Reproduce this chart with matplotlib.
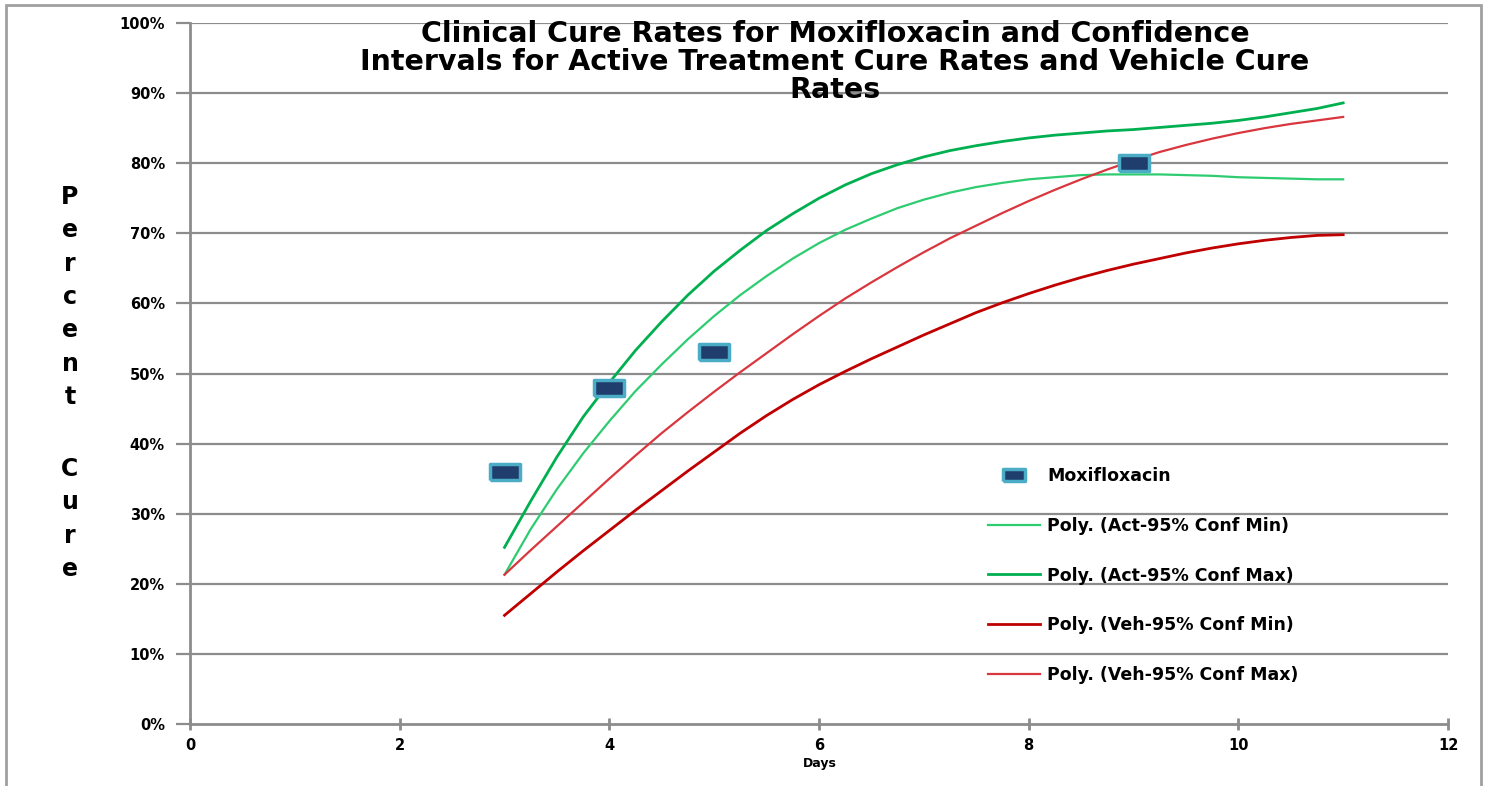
import numpy as np
import matplotlib
matplotlib.use('Agg')
import matplotlib.pyplot as plt
from matplotlib.patches import Rectangle

# Values (percent cure), every quarter day
days = [3, 3.25, 3.5, 3.75, 4, 4.25, 4.5, 4.75, 5, 5.25, 5.5, 5.75, 6, 6.25, 6.5, 6.75,
        7, 7.25, 7.5, 7.75, 8, 8.25, 8.5, 8.75, 9, 9.25, 9.5, 9.75, 10, 10.25, 10.5, 10.75, 11]
act_min = [21.3, 27.8, 33.5, 38.6, 43.2, 47.5, 51.3, 54.9, 58.2, 61.2, 63.9, 66.4, 68.6, 70.5, 72.1, 73.6,
           74.8, 75.8, 76.6, 77.2, 77.7, 78.0, 78.3, 78.4, 78.4, 78.4, 78.3, 78.2, 78.0, 77.9, 77.8, 77.7, 77.7]
act_max = [25.2, 31.8, 38.1, 43.8, 48.7, 53.3, 57.4, 61.2, 64.6, 67.6, 70.4, 72.8, 75.0, 76.9, 78.5, 79.8,
           80.9, 81.8, 82.5, 83.1, 83.6, 84.0, 84.3, 84.6, 84.8, 85.1, 85.4, 85.7, 86.1, 86.6, 87.2, 87.8, 88.6]
veh_min = [15.5, 18.6, 21.7, 24.7, 27.6, 30.5, 33.3, 36.1, 38.8, 41.5, 44.0, 46.3, 48.4, 50.3, 52.1, 53.8,
           55.5, 57.1, 58.7, 60.1, 61.4, 62.6, 63.7, 64.7, 65.6, 66.4, 67.2, 67.9, 68.5, 69.0, 69.4, 69.7, 69.8]
veh_max = [21.3, 24.8, 28.2, 31.6, 35.0, 38.3, 41.5, 44.5, 47.4, 50.2, 52.9, 55.6, 58.2, 60.7, 63.0, 65.2,
           67.3, 69.3, 71.1, 72.9, 74.6, 76.2, 77.7, 79.1, 80.4, 81.6, 82.6, 83.5, 84.3, 85.0, 85.6, 86.1, 86.6]

moxi_days = [3, 4, 5, 9]
moxi_cure = [36, 48, 53, 80]

yticks = list(range(0, 101, 10))
xticks = [0, 2, 4, 6, 8, 10, 12]

title = ('Clinical Cure Rates for Moxifloxacin and Confidence\n'
         'Intervals for Active Treatment Cure Rates and Vehicle Cure\n'
         'Rates')

fig = plt.figure(figsize=(14.89, 7.86), dpi=100)
ax = fig.add_axes([190 / 1489, 1 - 724 / 786, (1448 - 190) / 1489, (724 - 23) / 786])

gray = '#8c8c8c'
for y in yticks[1:]:
    ax.axhline(y, color=gray, lw=1.6, zorder=1)

rect = [(-1, -0.55), (1, -0.55), (1, 0.55), (-1, 0.55), (-1, -0.55)]
ax.plot(moxi_days, moxi_cure, linestyle='none', marker=rect, markersize=22,
        markerfacecolor='#1f3e6e', markeredgecolor='#4bacc6', markeredgewidth=2.5,
        label='Moxifloxacin', zorder=4)
ax.plot(days, act_min, color='#2ecc71', lw=1.6, label='Poly. (Act-95% Conf Min)', zorder=3)
ax.plot(days, act_max, color='#00b050', lw=2.0, label='Poly. (Act-95% Conf Max)', zorder=3)
ax.plot(days, veh_min, color='#c00000', lw=2.0, label='Poly. (Veh-95% Conf Min)', zorder=3)
ax.plot(days, veh_max, color='#d9363e', lw=1.6, label='Poly. (Veh-95% Conf Max)', zorder=3)

ax.set_xlim(0, 12)
ax.set_ylim(0, 100)
ax.set_xticks(xticks)
ax.set_yticks(yticks)
ax.set_yticklabels([str(v) + '%' for v in yticks])

for s in ['top', 'right']:
    ax.spines[s].set_visible(False)
for s in ['left', 'bottom']:
    ax.spines[s].set_color(gray)
    ax.spines[s].set_linewidth(2)
ax.tick_params(axis='y', direction='out', length=10, width=1.6, color=gray, pad=8)
ax.tick_params(axis='x', direction='inout', length=8, width=2, color=gray, pad=6)
for lab in ax.get_xticklabels() + ax.get_yticklabels():
    lab.set_fontweight('bold')
    lab.set_fontsize(10.5)
    lab.set_fontfamily('DejaVu Sans')

fig.text(835 / 1489, 1 - 62 / 786, title, ha='center', va='center',
         fontsize=20.5, fontweight='bold', family='DejaVu Sans', linespacing=1.0)

fig.text(820 / 1489, 1 - 763 / 786, 'Days', ha='center', va='center',
         fontsize=9, fontweight='bold', family='DejaVu Sans')

# vertical stacked y label
letters = 'Percent Cure'
ypix = 197
for ch in letters:
    if ch == ' ':
        ypix += 39
        continue
    fig.text(70 / 1489, 1 - ypix / 786, ch, ha='center', va='center',
             fontsize=17, fontweight='bold', family='DejaVu Sans')
    ypix += 33.3

ax.legend(loc='upper left', bbox_to_anchor=(988 / 1489, 1 - 467 / 786),
          bbox_transform=fig.transFigure, frameon=False, borderpad=0,
          borderaxespad=0, handlelength=3.0, handletextpad=0.4,
          labelspacing=1.83, markerscale=0.75,
          prop={'family': 'DejaVu Sans', 'weight': 'bold', 'size': 12.5})

# outer chart border
fig.add_artist(Rectangle((6 / 1489, -0.05), (1481 - 6) / 1489, 1.05 - 5 / 786,
                         transform=fig.transFigure, fill=False, edgecolor='#a0a0a0', lw=2))

fig.savefig('out.png', dpi=100)
